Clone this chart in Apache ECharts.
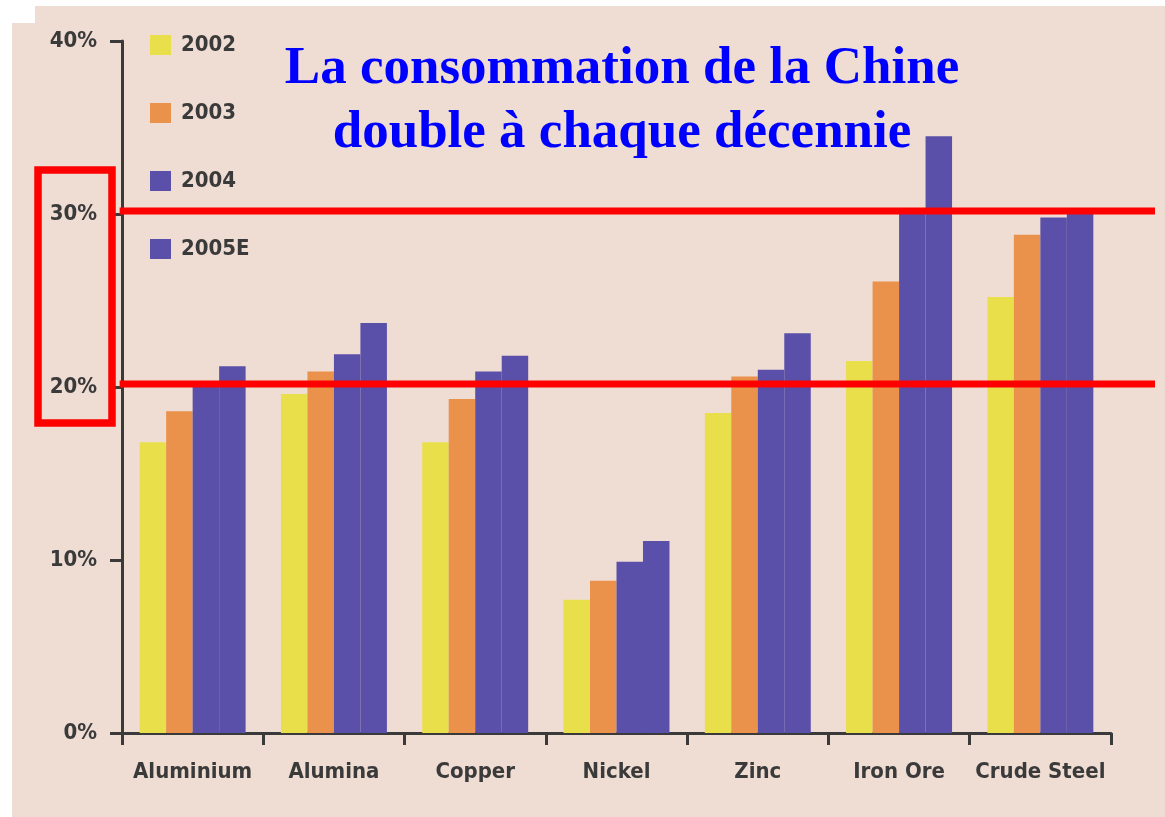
<!DOCTYPE html>
<html>
<head>
<meta charset="utf-8">
<title>La consommation de la Chine</title>
<script src="https://cdn.jsdelivr.net/npm/echarts@6/dist/echarts.min.js"></script>
<style>
  html, body { margin: 0; padding: 0; background: #fff; }
  #chart { width: 1165px; height: 817px; }
</style>
</head>
<body>
<div id="chart"></div>
<script>
// data (share of world consumption, %)
var metals = ["Aluminium", "Alumina", "Copper", "Nickel", "Zinc", "Iron Ore", "Crude Steel"];
var years = ["2002", "2003", "2004", "2005E"];
var y2002 = [16.8, 19.6, 16.8, 7.7, 18.5, 21.5, 25.2];
var y2003 = [18.6, 20.9, 19.3, 8.8, 20.6, 26.1, 28.8];
var y2004 = [20.3, 21.9, 20.9, 9.9, 21.0, 30.2, 29.8];
var y2005 = [21.2, 23.7, 21.8, 11.1, 23.1, 34.5, 30.1];
var yTicks = [0, 10, 20, 30, 40];
var markLevels = [30, 20];

var colors = ["#e9df4b", "#ea914b", "#5a50a9", "#5a50a9"];
var labelFont = '"DejaVu Sans Condensed", "Liberation Sans", sans-serif';

var chart = echarts.init(document.getElementById("chart"));

function barSeries(name, data, color) {
  return {
    name: name,
    type: "bar",
    data: data,
    barGap: "0%",
    barCategoryGap: "25%",
    itemStyle: { color: color },
    emphasis: { disabled: true }
  };
}

chart.setOption({
  backgroundColor: "#efdcd3",
  animation: false,
  title: {
    text: "La consommation de la Chine\ndouble à chaque décennie",
    left: 617,
    top: 32,
    textAlign: "center",
    textStyle: {
      color: "#0000ff",
      fontFamily: '"Liberation Serif", "Times New Roman", serif',
      fontWeight: "bold",
      fontSize: 53,
      lineHeight: 64
    }
  },
  legend: {
    orient: "vertical",
    left: 145,
    top: 27,
    itemWidth: 21,
    itemHeight: 20,
    itemGap: 42,
    icon: "rect",
    data: years,
    textStyle: {
      color: "#3a3a3a",
      fontFamily: labelFont,
      fontWeight: "bold",
      fontSize: 22,
      lineHeight: 20,
      padding: [6, 0, 0, 5]
    }
  },
  grid: { left: 122, right: 54, top: 41, bottom: 84 },
  xAxis: {
    type: "category",
    data: metals,
    axisLine: { lineStyle: { color: "#3a3a3a", width: 3 } },
    axisTick: { show: true, length: 12, lineStyle: { color: "#3a3a3a", width: 3 } },
    axisLabel: {
      interval: 0,
      color: "#3a3a3a",
      fontFamily: labelFont,
      fontWeight: "bold",
      fontSize: 22,
      margin: 28
    }
  },
  yAxis: {
    type: "value",
    min: yTicks[0],
    max: yTicks[yTicks.length - 1],
    interval: 10,
    splitLine: { show: false },
    axisLine: { show: true, lineStyle: { color: "#3a3a3a", width: 3 } },
    axisTick: { show: true, length: 12, lineStyle: { color: "#3a3a3a", width: 3 } },
    axisLabel: {
      color: "#3a3a3a",
      fontFamily: labelFont,
      fontWeight: "bold",
      fontSize: 22,
      margin: 25,
      formatter: "{value}%"
    }
  },
  series: [
    barSeries(years[0], y2002, colors[0]),
    barSeries(years[1], y2003, colors[1]),
    barSeries(years[2], y2004, colors[2]),
    barSeries(years[3], y2005, colors[3])
  ]
});

// annotations: red lines at 30% / 20% and the frame round their labels
var yHi = chart.convertToPixel({ yAxisIndex: 0 }, markLevels[0]);
var yLo = chart.convertToPixel({ yAxisIndex: 0 }, markLevels[1]);
var x0 = chart.convertToPixel({ xAxisIndex: 0 }, 0) - 71;

var redLines = markLevels.map(function (v) {
  var y = chart.convertToPixel({ yAxisIndex: 0 }, v);
  return {
    type: "line",
    z: 100,
    shape: { x1: x0 - 2, y1: y - 3, x2: 1155, y2: y - 3 },
    style: { stroke: "#ff0000", lineWidth: 7 }
  };
});

chart.setOption({
  graphic: [
    // white scan margins
    { type: "rect", shape: { x: 0, y: 0, width: 12, height: 817 }, style: { fill: "#fff" } },
    { type: "rect", shape: { x: 0, y: 0, width: 1165, height: 6 }, style: { fill: "#fff" } },
    { type: "rect", shape: { x: 0, y: 0, width: 35, height: 23 }, style: { fill: "#fff" } },
    {
      type: "rect",
      z: 100,
      shape: { x: 38, y: yHi - 44, width: 74, height: (yLo - yHi) + 80 },
      style: { fill: "none", stroke: "#ff0000", lineWidth: 7.5 }
    }
  ].concat(redLines)
});
</script>
</body>
</html>
